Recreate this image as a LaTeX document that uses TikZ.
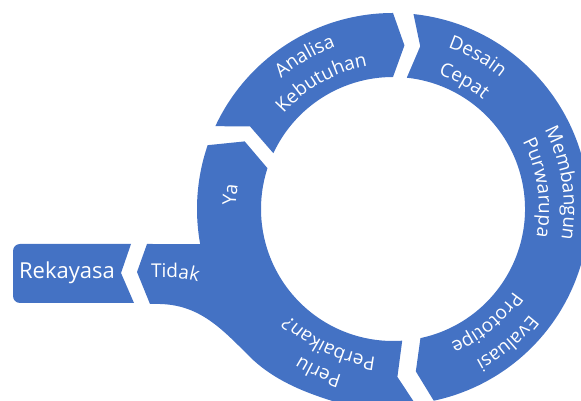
\documentclass[tikz,border=0pt]{standalone}
\usepackage{fontspec}
\setmainfont{Open Sans}
\usetikzlibrary{calc,decorations.text}
\definecolor{ArcClr}{RGB}{68,114,196}
\newcommand{\ringfont}{\fontsize{19}{21}\selectfont}
% curved label on the ring: centre angle, radius, text
\newcommand{\ringlabel}[3]{%
  \path[decorate,decoration={text along path,text align=center,text color=white,text={|\ringfont|#3}}]
    ([shift={(C)}]#1+40:#2) arc[start angle=#1+40,end angle=#1-40,radius=#2];}

\begin{document}
\begin{tikzpicture}[x=1pt,y=1pt]
\tikzset{ringpart/.style={fill=ArcClr}}
\useasboundingbox (0,0) rectangle (581,401);
\clip (0,0) rectangle (581,401);
\coordinate (C) at (393,192);

% Analisa Kebutuhan
\path[ringpart] ([shift={(C)}]155:196) arc[start angle=155,end angle=90,radius=196]
  -- ([shift={(C)}]86:164) -- ([shift={(C)}]90:132)
  arc[start angle=90,end angle=155,radius=132] -- ([shift={(C)}]150:165) -- cycle;

% Desain Cepat - Membangun Purwarupa - Evaluasi Prototipe
\path[ringpart] ([shift={(C)}]84:196) arc[start angle=84,end angle=-78,radius=196]
  -- ([shift={(C)}]-82:164) -- ([shift={(C)}]-78:132)
  arc[start angle=-78,end angle=84,radius=132] -- ([shift={(C)}]80.5:165) -- cycle;

% Perlu Perbaikan? with Ya and Tidak
\path[ringpart] ([shift={(C)}]161:196) -- ([shift={(C)}]155.5:163) -- ([shift={(C)}]162:132)
  arc[start angle=162,end angle=274,radius=132] -- ([shift={(C)}]271.5:168) -- (430,-25)
  .. controls (350,-5) and (290,5) .. (250,44)
  .. controls (222,72) and (200,96) .. (160,97)
  -- (150,97) -- (137,129) -- (147,157) -- ([shift={(C)}]190.3:196)
  arc[start angle=190.3,end angle=161,radius=196] -- cycle;

% Rekayasa
\path[ringpart] (134,98) -- (20,98) arc[start angle=270,end angle=180,radius=7]
  -- (13,150) arc[start angle=180,end angle=90,radius=7] -- (131,157) -- (121,128) -- cycle;
\node[text=white,font=\fontsize{22}{25}\selectfont] (rekayasa) at (67,128) {Rekayasa};

\ringlabel{120}{172}{Analisa}
\ringlabel{119.5}{145}{Kebutuhan}
\ringlabel{61}{170}{Desain}
\ringlabel{61}{142}{Cepat}
\ringlabel{8.7}{171}{Membangun}
\ringlabel{8.3}{146}{Purwarupa}
\ringlabel{-49.6}{173}{Evaluasi}
\ringlabel{-50.6}{146}{Prototipe}
\ringlabel{-114.6}{174}{Perlu}
\ringlabel{-115.3}{149}{Perbaikan?}
\ringlabel{175}{157}{Ya}

\path[decorate,decoration={text along path,text color=white,text={|\ringfont|Tidak}}]
  (151,123) -- (172,123) .. controls (185,123) and (196,120.5) .. (212,115);
\end{tikzpicture}
\end{document}
